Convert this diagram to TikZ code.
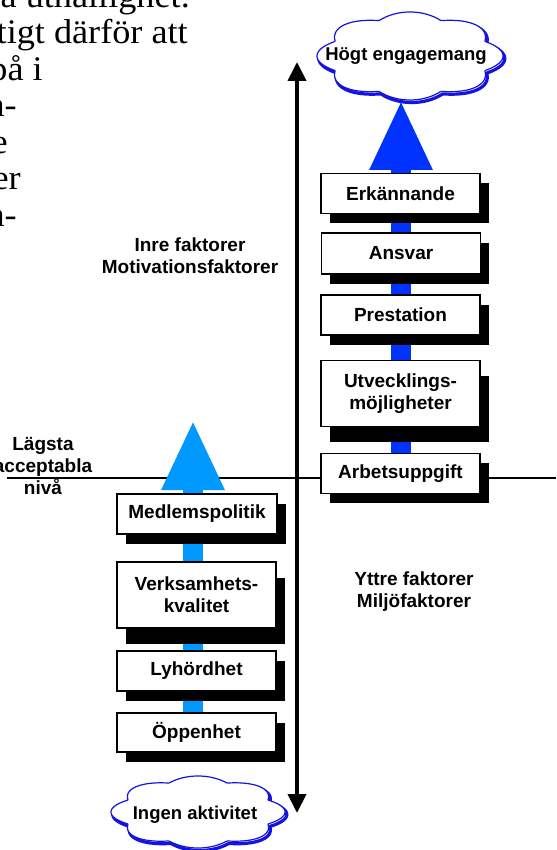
\documentclass[tikz,border=0pt]{standalone}
\usepackage{fontspec}
\setmainfont{Liberation Sans}
\newfontfamily\serifpage[FakeStretch=1.05]{Liberation Serif}
\usetikzlibrary{shadows, arrows.meta, backgrounds}
\definecolor{rblue}{RGB}{0,51,255}
\definecolor{lblue}{RGB}{0,153,255}
\definecolor{cblue}{RGB}{20,20,225}
\tikzset{
  pagetext/.style={anchor=base east, inner sep=0pt, font=\serifpage\fontsize{34.5}{36}\selectfont},
  lbl/.style={inner sep=0pt, align=center, font=\bfseries\fontsize{19}{22}\selectfont},
  stepbox/.style={draw=black, line width=1.3pt, fill=white, minimum width=159pt, inner sep=0pt,
    align=center, font=\bfseries\fontsize{19}{22}\selectfont},
  shortbox/.style={stepbox, minimum height=40pt,
    general shadow={fill=black, shadow xshift=8.5pt, shadow yshift=-9.5pt}},
  tallbox/.style={stepbox, minimum height=66pt,
    general shadow={fill=black, shadow xshift=8.5pt, shadow yshift=-15.5pt}},
  cloudtext/.style={inner sep=0pt, font=\bfseries\fontsize{18.5}{22}\selectfont},
  cloudline/.style={draw=cblue, fill=white, line width=1.2pt, line join=round},
  cloudedge/.style={draw=cblue, line width=3.2pt, line join=round},
  rbar/.style={draw=rblue, line width=20pt},
  lbar/.style={draw=lblue, line width=20pt},
  axisarrow/.style={line width=4pt, {Triangle[width=18pt,length=19pt]}-{Triangle[width=18pt,length=19pt]}},
  levelline/.style={line width=1.1pt},
}
% cloud outline: #1 = half width, #2 = half height
\newcommand{\cloudpath}[2]{plot[domain=0:360, samples=361, variable=\t]
  ({#1*(0.87+0.13*abs(sin(4*\t+90)))*cos(\t)}, {#2*(0.87+0.13*abs(sin(4*\t+90)))*sin(\t)}) -- cycle}
\begin{document}
\begin{tikzpicture}[x=1pt, y=-1pt]
\path[use as bounding box, clip] (0,0) rectangle (556,850);

% page text fragments
\node[pagetext] (p1) at (190,7.5) {på uthållighet.};
\node[pagetext] (p2) at (188,44) {tigt därför att};
\node[pagetext] (p3) at (43,80.5) {på i};
\node[pagetext] (p4) at (17,117) {a-};
\node[pagetext] (p5) at (8,153.5) {e};
\node[pagetext] (p6) at (21,190) {er};
\node[pagetext] (p7) at (17,226.5) {n-};

% coordinates
\coordinate (tipR) at (401,100);
\coordinate (tipL) at (193,420);
\coordinate (vtop) at (297,62);
\coordinate (vbot) at (297,813);
\coordinate (hl) at (7,478);
\coordinate (hr) at (556,478);
\coordinate (hoegc) at (410,56);
\coordinate (ingenc) at (198,812);

% right column
\node[shortbox] (erk) at (400.5,193.5) {Erkännande};
\node[shortbox, minimum height=41pt] (ansv) at (401,253.5) {Ansvar};
\node[shortbox] (prest) at (400.5,315) {Prestation};
\node[tallbox] (utv) at (400.5,393.5) {Utvecklings-\\möjligheter};
\node[shortbox] (arb) at (400.5,473.5) {Arbetsuppgift};

% left column
\node[shortbox, minimum width=160pt] (medl) at (197,514) {Medlemspolitik};
\node[tallbox] (verk) at (196.5,595) {Verksamhets-\\kvalitet};
\node[shortbox] (lyh) at (196.5,671) {Lyhördhet};
\node[shortbox, minimum height=39pt] (oepp) at (196.5,732.5) {Öppenhet};

% clouds
\begin{scope}[shift={(hoegc)}]
  \draw[cloudedge, shift={(1.8,2.5)}] \cloudpath{93}{44};
  \draw[cloudline] \cloudpath{93}{44};
\end{scope}
\node[cloudtext] (hoeg) at ([xshift=-4pt]hoegc) {Högt engagemang};
\begin{scope}[shift={(ingenc)}]
  \draw[cloudedge, shift={(1.8,2.5)}] \cloudpath{87}{36};
  \draw[cloudline] \cloudpath{87}{36};
\end{scope}
\node[cloudtext] (ingen) at ([xshift=-3pt,yshift=-3pt]ingenc) {Ingen aktivitet};

% labels
\node[lbl] (inre) at (190,256) {Inre faktorer\\Motivationsfaktorer};
\node[lbl] (yttre) at (414,591.5) {Yttre faktorer\\Miljöfaktorer};
\node[lbl] (lagsta) at (43,466.5) {Lägsta\\acceptabla\\nivå};

% axis arrow
\draw[axisarrow] (vtop) -- (vbot);

\begin{scope}[on background layer]
  \fill[white] (0,0) rectangle (556,850);
  \draw[levelline] (hl) -- (hr);
  \draw[rbar] (arb.center -| tipR) -- (utv.center -| tipR);
  \draw[rbar] (utv.center -| tipR) -- (prest.center -| tipR);
  \draw[rbar] (prest.center -| tipR) -- (ansv.center -| tipR);
  \draw[rbar] (ansv.center -| tipR) -- (erk.center -| tipR);
  \draw[rbar, -{Triangle[width=58pt,length=70pt]}] (erk.center -| tipR) -- (tipR);
  \draw[lbar] (oepp.center -| tipL) -- (lyh.center -| tipL);
  \draw[lbar] (lyh.center -| tipL) -- (verk.center -| tipL);
  \draw[lbar] (verk.center -| tipL) -- (medl.center -| tipL);
  \draw[lbar, -{Triangle[width=58pt,length=70pt]}] (medl.center -| tipL) -- (tipL);
\end{scope}
\end{tikzpicture}
\end{document}
